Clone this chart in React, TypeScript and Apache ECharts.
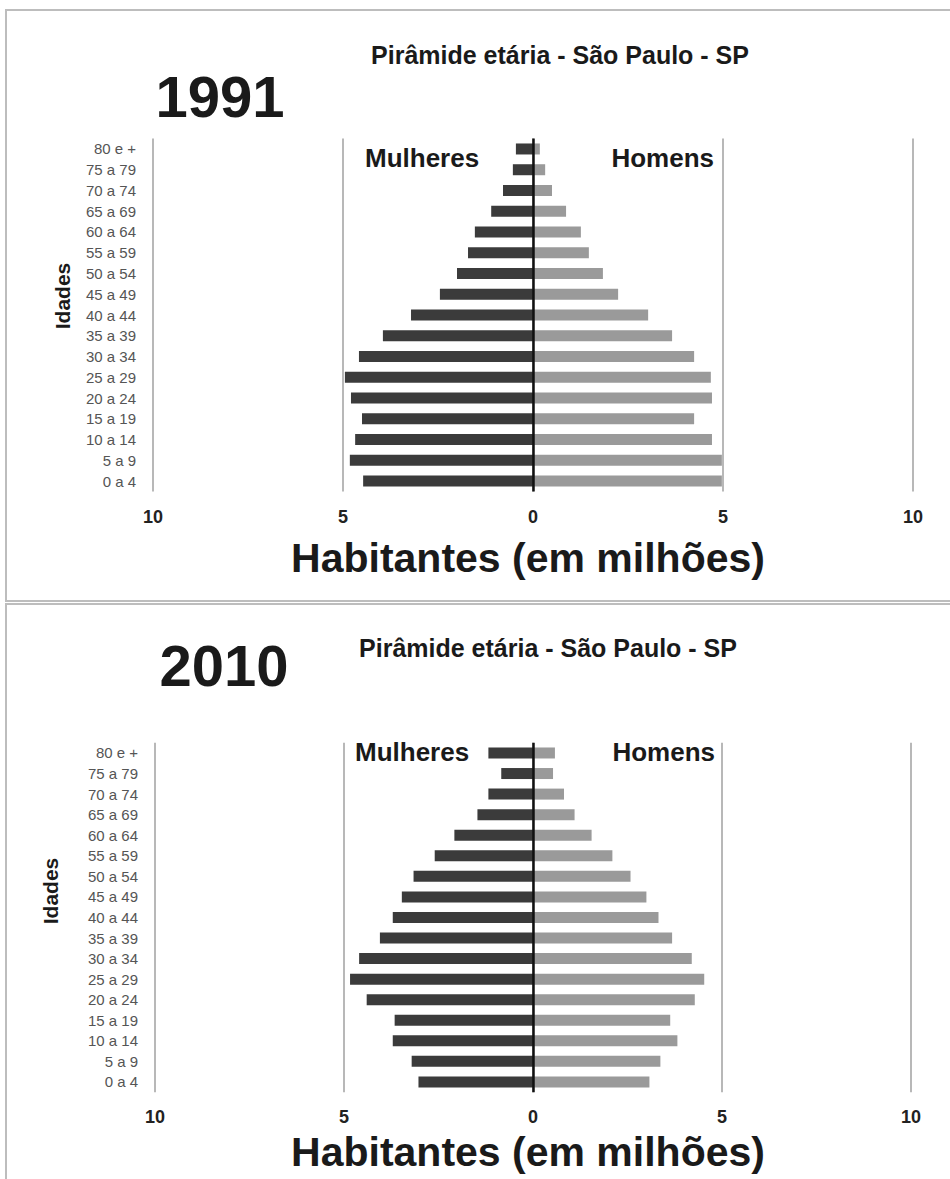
import React, { useEffect, useRef } from "react";
import * as echarts from "echarts";

const categories = [
  "0 a 4", "5 a 9", "10 a 14", "15 a 19", "20 a 24", "25 a 29", "30 a 34",
  "35 a 39", "40 a 44", "45 a 49", "50 a 54", "55 a 59", "60 a 64",
  "65 a 69", "70 a 74", "75 a 79", "80 e +",
];

// values in millions, ordered from "0 a 4" to "80 e +"
const women1991 = [4.47, 4.82, 4.68, 4.5, 4.79, 4.95, 4.58, 3.95, 3.21, 2.45, 2.0, 1.71, 1.53, 1.1, 0.79, 0.53, 0.45];
const men1991 = [4.97, 4.97, 4.71, 4.24, 4.71, 4.68, 4.24, 3.66, 3.03, 2.24, 1.84, 1.47, 1.26, 0.87, 0.5, 0.32, 0.18];
const women2010 = [3.03, 3.21, 3.71, 3.66, 4.4, 4.84, 4.6, 4.05, 3.71, 3.47, 3.16, 2.6, 2.08, 1.47, 1.18, 0.84, 1.18];
const men2010 = [3.08, 3.37, 3.82, 3.63, 4.28, 4.53, 4.2, 3.68, 3.32, 3.0, 2.58, 2.1, 1.55, 1.1, 0.82, 0.53, 0.58];

const xTicks = { min: -10, max: 10, interval: 5 };
const chartTitle = "Pirâmide etária - São Paulo - SP";
const years = ["1991", "2010"];
const xAxisName = "Habitantes (em milhões)";
const yAxisName = "Idades";
const sexLabels = ["Mulheres", "Homens"];

const FONT = '"Liberation Sans", Arial, sans-serif';
const WOMEN_COLOR = "#3b3b3b";
const MEN_COLOR = "#9a9a9a";

function txt(text: string, x: number, y: number, size: number, align = "center", extra: any = {}) {
  return {
    type: "text",
    x,
    y,
    ...extra,
    style: {
      text,
      fontSize: size,
      fontWeight: "bold",
      fontFamily: FONT,
      fill: extra.fill || "#1a1a1a",
      textAlign: align,
      textVerticalAlign: "middle",
    },
    z: 10,
  };
}

export default function App() {
  const ref = useRef<HTMLDivElement>(null);

  useEffect(() => {
    if (!ref.current) return;
    const chart = echarts.init(ref.current, undefined, { renderer: "svg" });

    const grids = [
      { left: 153, right: 37, top: 138.6, height: 352.8 },
      { left: 155, right: 39, top: 742.7, height: 349.5 },
    ];

    const xAxis = grids.map((_, i) => ({
      type: "value",
      gridIndex: i,
      min: xTicks.min,
      max: xTicks.max,
      interval: xTicks.interval,
      axisLine: { show: false },
      axisTick: { show: false },
      splitLine: { show: true, lineStyle: { color: "#a0a0a0", width: 1.5 } },
      axisLabel: {
        show: true,
        showMinLabel: true,
        showMaxLabel: true,
        formatter: (v: number) => String(Math.abs(v)),
        fontSize: 18,
        fontWeight: "bold",
        fontFamily: FONT,
        color: "#222",
        margin: i === 0 ? 17 : 16,
      },
    }));

    const yAxis = grids.map((_, i) => ({
      type: "category",
      gridIndex: i,
      data: categories,
      axisLine: { show: false },
      axisTick: { show: false },
      splitLine: { show: false },
      axisLabel: {
        fontSize: 15,
        fontFamily: '"Liberation Sans Narrow", "Liberation Sans", Arial, sans-serif',
        color: "#555",
        margin: 17,
        interval: 0,
      },
    }));

    const zeroLine = {
      silent: true,
      symbol: ["none", "none"],
      label: { show: false },
      lineStyle: { color: "#111", width: 2.5, type: "solid" },
      data: [{ xAxis: 0 }],
    };

    const mkSeries = (women: number[], men: number[], gi: number) => [
      {
        type: "bar",
        name: sexLabels[0],
        xAxisIndex: gi,
        yAxisIndex: gi,
        stack: "p" + gi,
        barWidth: 11,
        data: women.map((v) => -v),
        itemStyle: { color: WOMEN_COLOR },
        markLine: zeroLine,
      },
      {
        type: "bar",
        name: sexLabels[1],
        xAxisIndex: gi,
        yAxisIndex: gi,
        stack: "p" + gi,
        barWidth: 11,
        data: men,
        itemStyle: { color: MEN_COLOR },
      },
    ];

    const graphic: any[] = [
      {
        type: "rect",
        shape: { x: 6, y: 10, width: 960, height: 591 },
        style: { fill: "none", stroke: "#bdbdbd", lineWidth: 2 },
        z: 1,
      },
      {
        type: "rect",
        shape: { x: 6, y: 604, width: 960, height: 600 },
        style: { fill: "none", stroke: "#bdbdbd", lineWidth: 2 },
        z: 1,
      },
      // top panel texts
      txt(chartTitle, 560, 55, 25),
      txt(years[0], 220, 96, 58),
      txt(yAxisName, 62, 296, 21, "center", { rotation: Math.PI / 2 }),
      txt(sexLabels[0], 365, 158, 26, "left"),
      txt(sexLabels[1], 714, 158, 26, "right"),
      txt(xAxisName, 528, 558, 41),
      // bottom panel texts
      txt(chartTitle, 548, 648, 25),
      txt(years[1], 224, 665, 58),
      txt(yAxisName, 50, 891, 21, "center", { rotation: Math.PI / 2 }),
      txt(sexLabels[0], 355, 752, 26, "left"),
      txt(sexLabels[1], 715, 752, 26, "right"),
      txt(xAxisName, 528, 1152, 41),
    ];

    chart.setOption({
      animation: false,
      backgroundColor: "#ffffff",
      grid: grids,
      xAxis,
      yAxis,
      series: [...mkSeries(women1991, men1991, 0), ...mkSeries(women2010, men2010, 1)],
      graphic,
    });

    return () => chart.dispose();
  }, []);

  return (
    <div
      ref={ref}
      style={{ position: "absolute", left: 0, top: 0, width: 950, height: 1179 }}
    />
  );
}
